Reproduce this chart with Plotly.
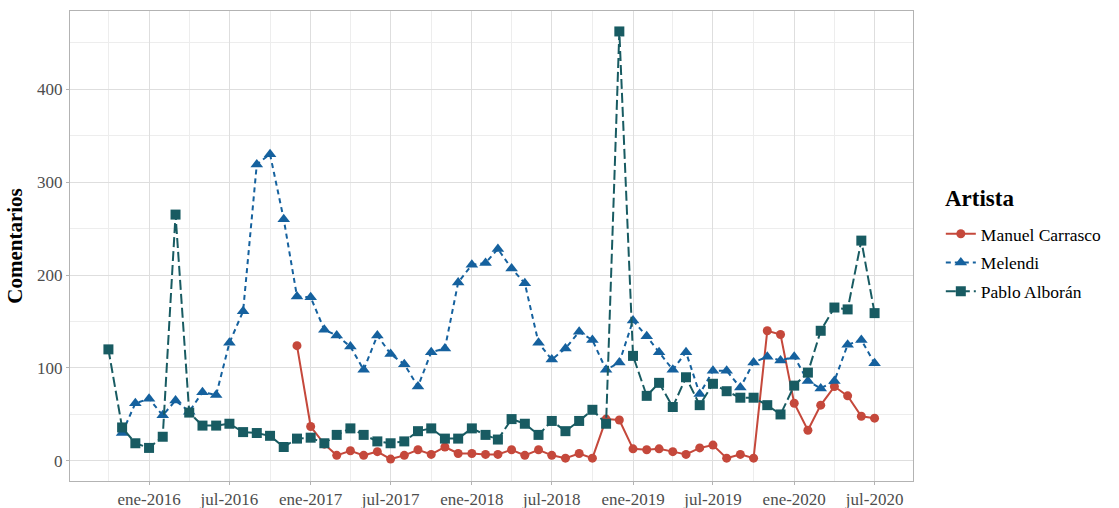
import pandas as pd
import plotly.graph_objects as go

# Monthly comment counts per artist (first day of each month)
meses = pd.date_range("2015-10-01", "2020-07-01", freq="MS")

pablo_alboran = [
    120, 36, 19, 14, 26, 265, 52, 38, 38, 40, 31, 30, 27, 15, 24,
    25, 19, 28, 35, 28, 21, 19, 21, 32, 35, 24, 24, 35, 28, 23,
    45, 40, 28, 43, 32, 43, 55, 40, 462, 113, 70, 84, 58, 90, 60,
    83, 75, 68, 68, 60, 50, 81, 95, 140, 165, 163, 237, 159,
]

melendi = [
    None, 30, 62, 67, 49, 65, 53, 74, 71, 127, 161, 319, 330, 260, 177,
    176, 141, 135, 123, 98, 135, 115, 104, 80, 117, 121, 192, 211, 213, 228,
    207, 191, 127, 109, 121, 139, 130, 98, 106, 151, 134, 117, 98, 117, 72,
    97, 97, 79, 106, 112, 108, 112, 86, 78, 86, 125, 130, 105,
]

manuel_carrasco = [
    None, None, None, None, None, None, None, None, None, None, None, None, None, None, 124,
    37, 18, 6, 11, 6, 10, 2, 6, 12, 7, 15, 8, 8, 7, 7,
    12, 6, 12, 6, 3, 8, 3, 45, 44, 13, 12, 13, 10, 7, 14,
    17, 3, 7, 3, 140, 136, 62, 33, 60, 80, 70, 48, 46,
]

# Axis tick positions and Spanish month labels
tick_fechas = ["2016-01-01", "2016-07-01", "2017-01-01", "2017-07-01", "2018-01-01",
               "2018-07-01", "2019-01-01", "2019-07-01", "2020-01-01", "2020-07-01"]
tick_etiquetas = ["ene-2016", "jul-2016", "ene-2017", "jul-2017", "ene-2018",
                  "jul-2018", "ene-2019", "jul-2019", "ene-2020", "jul-2020"]
minor_fechas = ["2015-10-01", "2016-04-01", "2016-10-01", "2017-04-01", "2017-10-01",
                "2018-04-01", "2018-10-01", "2019-04-01", "2019-10-01", "2020-04-01"]
y_ticks = [0, 100, 200, 300, 400]

ROJO = "#C5483B"
AZUL = "#15619E"
VERDE = "#185B62"
SERIF = "Liberation Serif, Times New Roman, serif"

fig = go.Figure()

fig.add_trace(go.Scatter(
    x=meses, y=manuel_carrasco, name="Manuel Carrasco", mode="lines+markers",
    legendgroup="mc",
    line=dict(color=ROJO, width=2),
    marker=dict(symbol="circle", size=9, color=ROJO),
))
fig.add_trace(go.Scatter(
    x=meses, y=melendi, name="Melendi", mode="lines+markers",
    legendgroup="me",
    line=dict(color=AZUL, width=2, dash="5px,4px"),
    marker=dict(symbol="triangle-up", size=11, color=AZUL),
))
fig.add_trace(go.Scatter(
    x=meses, y=pablo_alboran, name="Pablo Alborán", mode="lines+markers",
    legendgroup="pa",
    line=dict(color=VERDE, width=2, dash="10px,4px"),
    marker=dict(symbol="square", size=10, color=VERDE),
))

# Legend heading drawn as its own label above the entries
fig.add_annotation(
    text="<b>Artista</b>", xref="paper", yref="paper",
    x=1.036, y=0.602, xanchor="left", yanchor="middle", showarrow=False,
    font=dict(size=23, color="black", family=SERIF),
)

grid = "#DEDEDE"
fig.update_layout(
    width=1119, height=508,
    margin=dict(l=70, r=206, t=11, b=27, autoexpand=False),
    paper_bgcolor="white", plot_bgcolor="white",
    font=dict(family=SERIF, color="#4D4D4D"),
    legend=dict(
        font=dict(size=17.5, color="black", family=SERIF),
        x=1.033, xanchor="left", y=0.564, yanchor="top",
        tracegroupgap=3,
        bgcolor="rgba(0,0,0,0)",
    ),
    xaxis=dict(
        type="date",
        range=["2015-07-06", "2020-09-26"],
        tickvals=tick_fechas, ticktext=tick_etiquetas,
        tickfont=dict(size=17, color="#4D4D4D"),
        showgrid=True, gridcolor=grid, gridwidth=1,
        minor=dict(tickvals=minor_fechas, showgrid=True, gridcolor="#EDEDED", gridwidth=1),
        ticks="outside", ticklen=3, tickcolor="#B3B3B3",
        showline=True, linecolor="#B3B3B3", mirror=True, zeroline=False,
        automargin=False,
    ),
    yaxis=dict(
        range=[-21.6, 484],
        tickvals=y_ticks,
        tickfont=dict(size=17, color="#4D4D4D"),
        title=dict(text="<b>Comentarios</b>", font=dict(size=21, color="black", family=SERIF),
                   standoff=8),
        showgrid=True, gridcolor=grid, gridwidth=1,
        minor=dict(dtick=50, tick0=50, showgrid=True, gridcolor="#EDEDED", gridwidth=1),
        ticks="outside", ticklen=3, tickcolor="#B3B3B3",
        showline=True, linecolor="#B3B3B3", mirror=True, zeroline=False,
        automargin=False,
    ),
)

fig.write_html("out.html")
